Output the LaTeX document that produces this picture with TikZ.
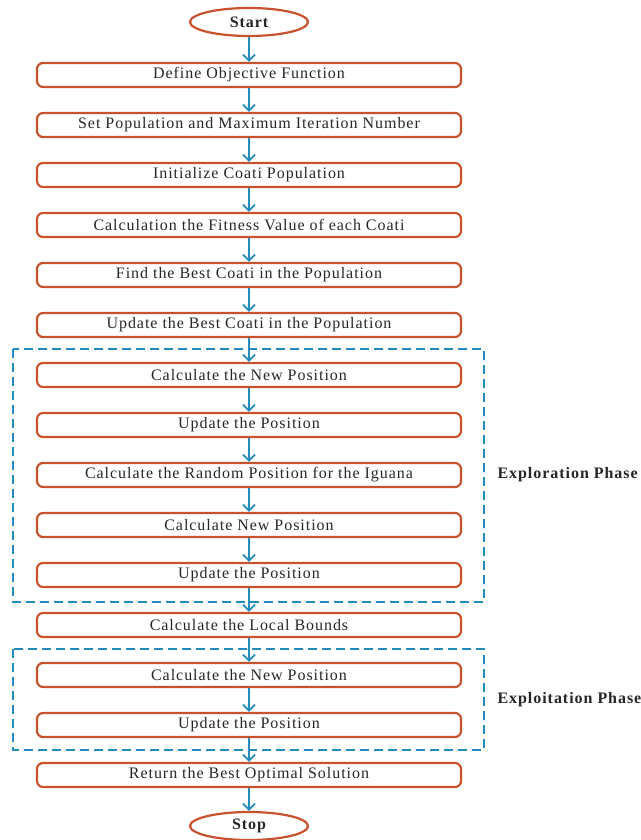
\documentclass[tikz,border=0pt]{standalone}
\usepackage{fontspec}
\setmainfont[LetterSpace=6]{Liberation Serif}
\usetikzlibrary{shapes.geometric,arrows.meta}

\definecolor{boxred}{RGB}{200,82,45}
\definecolor{flowblue}{RGB}{35,140,190}

\begin{document}
\begin{tikzpicture}[
		x=1pt, y=-1pt,
		every node/.style={font=\fontsize{16}{18}\selectfont, text=black!85},
		stepbox/.style={rectangle, rounded corners=6pt, draw=boxred, line width=2.2pt,
			minimum width=424pt, minimum height=24pt, inner sep=0pt},
		term/.style={ellipse, draw=boxred, line width=2.2pt, minimum width=118pt,
			minimum height=28pt, inner sep=0pt, font=\fontsize{16}{18}\selectfont\bfseries},
		flow/.style={draw=flowblue, line width=1.8pt, -{Straight Barb[length=6pt,width=12pt,line width=1.8pt]}},
		phase/.style={draw=flowblue, line width=1.6pt, dash pattern=on 9pt off 5pt},
		phaselabel/.style={anchor=west, font=\fontsize{16}{18}\selectfont\bfseries}
	]
  \useasboundingbox (0,0) rectangle (640,840);
  \node (start) [term] at (249,22) {Start};
  \node (objective) [stepbox] at (249,75) {Define Objective Function};
  \node (setpop) [stepbox] at (249,125) {Set Population and Maximum Iteration Number};
  \node (initpop) [stepbox] at (249,175) {Initialize Coati Population};
  \node (fitness) [stepbox] at (249,225) {Calculation the Fitness Value of each Coati};
  \node (findbest) [stepbox] at (249,275) {Find the Best Coati in the Population};
  \node (updbest) [stepbox] at (249,325) {Update the Best Coati in the Population};
  \node (newpos_a) [stepbox] at (249,375) {Calculate the New Position};
  \node (updpos_a) [stepbox] at (249,425) {Update the Position};
  \node (iguana) [stepbox] at (249,475) {Calculate the Random Position for the Iguana};
  \node (newpos_b) [stepbox] at (249,525) {Calculate New Position};
  \node (updpos_b) [stepbox] at (249,575) {Update the Position};
  \node (bounds) [stepbox] at (249,625) {Calculate the Local Bounds};
  \node (newpos_c) [stepbox] at (249,675) {Calculate the New Position};
  \node (updpos_c) [stepbox] at (249,725) {Update the Position};
  \node (optimal) [stepbox] at (249,775) {Return the Best Optimal Solution};
  \node (stop) [term] at (249,826) {Stop};

  % phases
  \draw [phase] (13,349) rectangle (484,602);
  \draw [phase] (13,649) rectangle (484,750);
  \node (explore) [phaselabel] at (494,475) {Exploration Phase};
  \node (exploit) [phaselabel] at (494,700) {Exploitation Phase};

  \draw [flow] (start) -- (objective);
  \draw [flow] (objective) -- (setpop);
  \draw [flow] (setpop) -- (initpop);
  \draw [flow] (initpop) -- (fitness);
  \draw [flow] (fitness) -- (findbest);
  \draw [flow] (findbest) -- (updbest);
  \draw [flow] (updbest) -- (newpos_a);
  \draw [flow] (newpos_a) -- (updpos_a);
  \draw [flow] (updpos_a) -- (iguana);
  \draw [flow] (iguana) -- (newpos_b);
  \draw [flow] (newpos_b) -- (updpos_b);
  \draw [flow] (updpos_b) -- (bounds);
  \draw [flow] (bounds) -- (newpos_c);
  \draw [flow] (newpos_c) -- (updpos_c);
  \draw [flow] (updpos_c) -- (optimal);
  \draw [flow] (optimal) -- (stop);
\end{tikzpicture}
\end{document}
